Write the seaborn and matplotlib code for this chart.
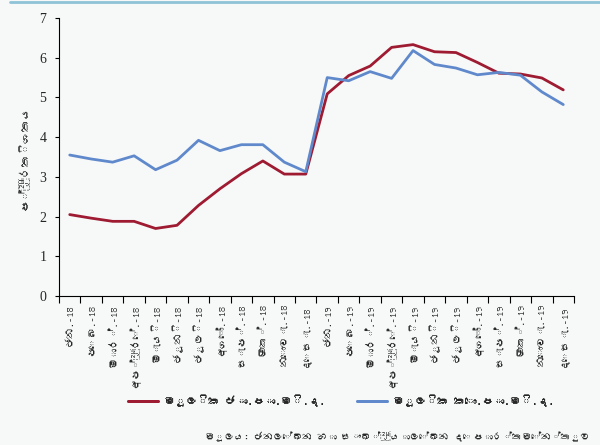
import numpy as np
import pandas as pd
import matplotlib
matplotlib.use("Agg")
import matplotlib.pyplot as plt
from matplotlib.lines import Line2D
import seaborn as sns
from matplotlib import font_manager

# ---------------- data ----------------
months = ["ජන.", "පෙබ.", "මාර්.", "අප්‍රේ.", "මැයි", "ජූනි", "ජූලි", "අගෝ.",
          "සැප්.", "ඔක්.", "නොවැ.", "දෙසැ."]
years = ["18", "19"]
categories = [f"{m}-{y}" for y in years for m in months]

core_ncpi = [2.05, 1.96, 1.88, 1.88, 1.70, 1.78, 2.28, 2.70, 3.08, 3.40, 3.07, 3.07,
             5.09, 5.55, 5.79, 6.26, 6.33, 6.15, 6.13, 5.88, 5.61, 5.59, 5.49, 5.19]
core_ccpi = [3.55, 3.45, 3.37, 3.53, 3.18, 3.42, 3.92, 3.66, 3.81, 3.81, 3.37, 3.13,
             5.50, 5.42, 5.65, 5.48, 6.18, 5.83, 5.74, 5.57, 5.63, 5.56, 5.14, 4.82]

series_names = ["මූලික ජා.පා.මි.ද.", "මූලික කො.පා.මි.ද."]
y_label = "ප්‍රතිශතය"
source_text = "මූලය: ජනලේඛන හා සංඛ්‍යාලේඛන දෙපාර්තමේන්තුව"
y_ticks = [0, 1, 2, 3, 4, 5, 6, 7]

# ---------------- fonts ----------------
sinhala_family = None
try:
    from fontTools.ttLib import TTFont
    for f in font_manager.findSystemFonts():
        try:
            tt = TTFont(f, fontNumber=0, lazy=True)
            cmap = tt.getBestCmap()
            if cmap and 0x0DA2 in cmap:
                sinhala_family = font_manager.FontProperties(fname=f).get_name()
                font_manager.fontManager.addfont(f)
                break
        except Exception:
            pass
except Exception:
    pass

sns.set_theme(style="white")
fams = ([sinhala_family] if sinhala_family else []) + ["Liberation Serif", "DejaVu Sans"]
plt.rcParams["font.family"] = fams

red = "#9e1b32"
blue = "#6089cc"
bg = "#f7f9f9"

df = pd.DataFrame({
    "x": list(range(len(categories))) * 2,
    "value": core_ncpi + core_ccpi,
    "series": [series_names[0]] * len(categories) + [series_names[1]] * len(categories),
})

fig = plt.figure(figsize=(6, 4.45), dpi=100, facecolor=bg)
ax = fig.add_axes([59 / 600, 1 - 296 / 445, (574 - 59) / 600, (296 - 18) / 445])
ax.set_facecolor(bg)

sns.lineplot(data=df, x="x", y="value", hue="series",
             palette=[red, blue], linewidth=2.0, ax=ax, legend=False)

ax.set_xlim(-0.5, len(categories) - 0.5)
ax.set_ylim(0, 7)
ax.set_yticks(y_ticks)
ax.set_yticklabels([str(t) for t in y_ticks], fontsize=10, family="Liberation Serif")
ax.set_xticks(np.arange(-0.5, len(categories), 1.0))
ax.set_xticklabels([])
ax.set_xticks(np.arange(len(categories)), minor=True)
ax.set_xticklabels(categories, minor=True, rotation=90, fontsize=7.5)
ax.tick_params(axis="x", which="major", direction="out", length=5, width=0.8,
               color="black", bottom=True)
ax.tick_params(axis="x", which="minor", length=0, pad=6)
ax.tick_params(axis="y", direction="out", length=3, width=0.8, color="black",
               left=True, pad=6)
ax.set_xlabel("")
ax.set_ylabel(y_label, fontsize=8.5, labelpad=8, fontweight="bold")

for s in ["top", "right"]:
    ax.spines[s].set_visible(False)
for s in ["left", "bottom"]:
    ax.spines[s].set_color("black")
    ax.spines[s].set_linewidth(0.8)

# top decorative line
fig.add_artist(Line2D([10 / 600, 1], [1 - 2 / 445, 1 - 2 / 445],
                      color="#8ec3d8", linewidth=2, transform=fig.transFigure))

leg_y = 1 - 401 / 445
for name, color, x0 in [(series_names[0], red, 128), (series_names[1], blue, 357)]:
    leg = fig.legend([Line2D([], [], color=color, linewidth=2.0)], [name],
                     loc="center left", bbox_to_anchor=(x0 / 600, leg_y),
                     frameon=False, fontsize=8, handlelength=2.7, handletextpad=0.5,
                     borderpad=0, borderaxespad=0)
    for t in leg.get_texts():
        t.set_fontweight("bold")
    fig.add_artist(leg)

fig.text(590 / 600, 1 - 437 / 445, source_text, ha="right", va="center", fontsize=7)

fig.savefig("out.png", dpi=100, facecolor=bg)
